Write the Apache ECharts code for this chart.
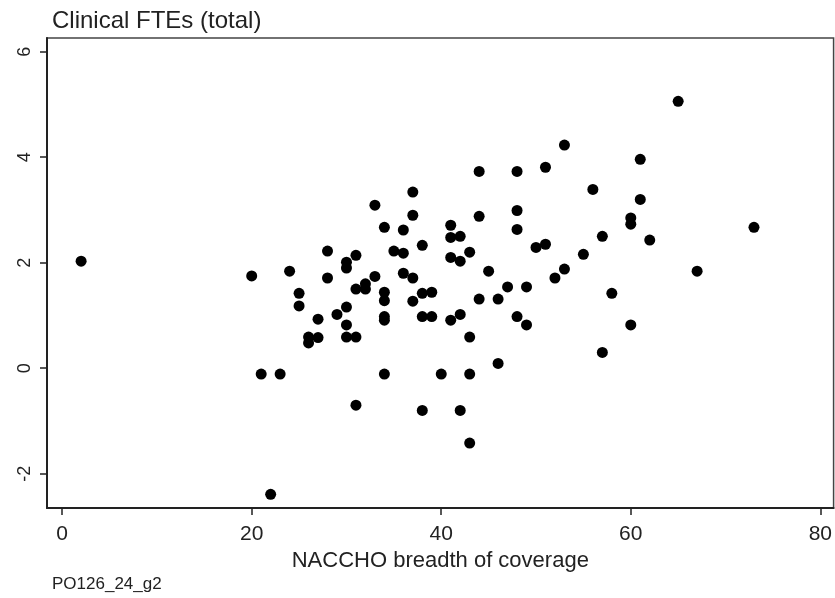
<!DOCTYPE html>
<html>
<head>
<meta charset="utf-8">
<script src="https://cdn.jsdelivr.net/npm/echarts@6/dist/echarts.min.js"></script>
<style>
  html, body { margin: 0; padding: 0; background: #fff; }
  #chart { width: 835px; height: 598px; }
</style>
</head>
<body>
<div id="chart"></div>
<script>
// NACCHO breadth of coverage (x) vs clinical FTEs (y)
const coverage = [
  2, 20, 21, 22, 23, 24, 25, 25, 26, 26, 27, 27, 28, 28, 29, 30, 30, 30, 30, 30,
  31, 31, 31, 31, 32, 32, 33, 33, 34, 34, 34, 34, 34, 34, 35, 36, 36, 36, 37, 37,
  37, 37, 38, 38, 38, 38, 39, 39, 40, 41, 41, 41, 41, 42, 42, 42, 42, 43, 43, 43,
  43, 44, 44, 44, 45, 46, 46, 47, 48, 48, 48, 48, 49, 49, 50, 51, 51, 52, 53, 53,
  55, 56, 57, 57, 58, 60, 60, 60, 61, 61, 62, 65, 67, 73
];
const clinicalFtes = [
  2.03, 1.75, -0.11, -2.39, -0.11, 1.84, 1.42, 1.18, 0.59, 0.48, 0.93, 0.58, 2.22, 1.71, 1.02, 2.01, 1.90, 1.16, 0.82, 0.59,
  2.14, 1.50, 0.59, -0.70, 1.60, 1.50, 3.09, 1.74, 2.67, 1.44, 1.28, 0.98, 0.91, -0.11, 2.22, 2.62, 2.18, 1.80, 3.34, 2.90,
  1.71, 1.27, 2.33, 1.42, 0.98, -0.80, 1.44, 0.98, -0.11, 2.71, 2.48, 2.10, 0.91, 2.50, 2.03, 1.02, -0.80, 2.20, 0.59, -0.11,
  -1.42, 3.73, 2.88, 1.31, 1.84, 1.31, 0.09, 1.54, 3.73, 2.99, 2.63, 0.98, 1.54, 0.82, 2.29, 3.81, 2.35, 1.71, 4.23, 1.88,
  2.16, 3.39, 2.50, 0.30, 1.42, 2.85, 2.73, 0.82, 3.96, 3.20, 2.43, 5.06, 1.84, 2.67
];
const xTicks = [0, 20, 40, 60, 80];
const yTicks = [-2, 0, 2, 4, 6];

const points = coverage.map((x, i) => [x, clinicalFtes[i]]);
const font = "Liberation Sans, Arial, sans-serif";
const ink = "#222";

const chart = echarts.init(document.getElementById("chart"), null, { renderer: "canvas" });

chart.setOption({
  animation: false,
  backgroundColor: "#fff",
  title: {
    text: "Clinical FTEs (total)",
    left: 47,
    top: 4,
    textStyle: { fontFamily: font, fontSize: 24, fontWeight: "normal", color: ink },
  },
  grid: {
    left: 47,
    top: 38,
    right: 1,
    bottom: 90,
    show: true,
    borderColor: "#444",
    borderWidth: 1.5,
  },
  xAxis: {
    type: "value",
    min: -1.6,
    max: 81.4,
    name: "NACCHO breadth of coverage",
    nameLocation: "middle",
    nameGap: 33,
    nameTextStyle: { fontFamily: font, fontSize: 22, color: ink },
    axisLine: { onZero: false, lineStyle: { color: ink, width: 2 } },
    axisTick: { show: true, length: 7, customValues: xTicks, lineStyle: { color: ink, width: 1.5 } },
    axisLabel: { customValues: xTicks, margin: 16, fontFamily: font, fontSize: 21, color: ink },
    splitLine: { show: false },
  },
  yAxis: {
    type: "value",
    min: -2.65,
    max: 6.26,
    axisLine: { onZero: false, lineStyle: { color: ink, width: 2 } },
    axisTick: { show: true, length: 7, customValues: yTicks, lineStyle: { color: ink, width: 1.5 } },
    axisLabel: { customValues: yTicks, rotate: 90, margin: 13, fontFamily: font, fontSize: 18, color: ink },
    splitLine: { show: false },
  },
  graphic: [
    {
      type: "text",
      left: 52,
      top: 576,
      style: { text: "PO126_24_g2", fontFamily: font, fontSize: 17, fill: ink },
    },
  ],
  series: [
    {
      type: "scatter",
      data: points,
      symbol: "circle",
      symbolSize: 11,
      itemStyle: { color: "#000", opacity: 1 },
    },
  ],
});
</script>
</body>
</html>
